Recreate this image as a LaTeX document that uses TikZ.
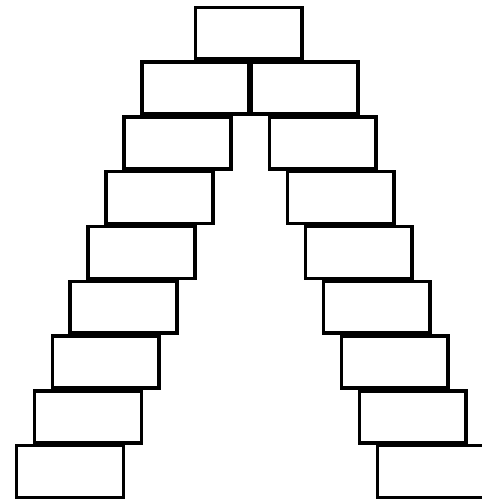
\documentclass[tikz,border=0pt]{standalone}
\usepackage{tikz}
\usetikzlibrary{positioning}

\begin{document}
\begin{tikzpicture}[
  x=0.02cm, y=-0.02cm,
  block/.style={draw, line width=0.07cm, minimum width=2.14cm,
                minimum height=1.04cm, inner sep=0pt, anchor=north west}
]
\useasboundingbox (0,0) rectangle (482,501);

%% ── Keystone ──────────────────────────────────────────────────────────────
\node[block] (top) at (193.5, 5.5) {};

%% ── Left and right stacks ─────────────────────────────────────────────────
\foreach \r in {1,...,8} {
  \node[block] (l\r) at ({140-17.9*(\r-1)}, {5.5+54.8*\r}) {};
  \node[block] (r\r) at ({249.5+18*(\r-1)}, {5.5+54.8*\r}) {};
}

\end{tikzpicture}
\end{document}
